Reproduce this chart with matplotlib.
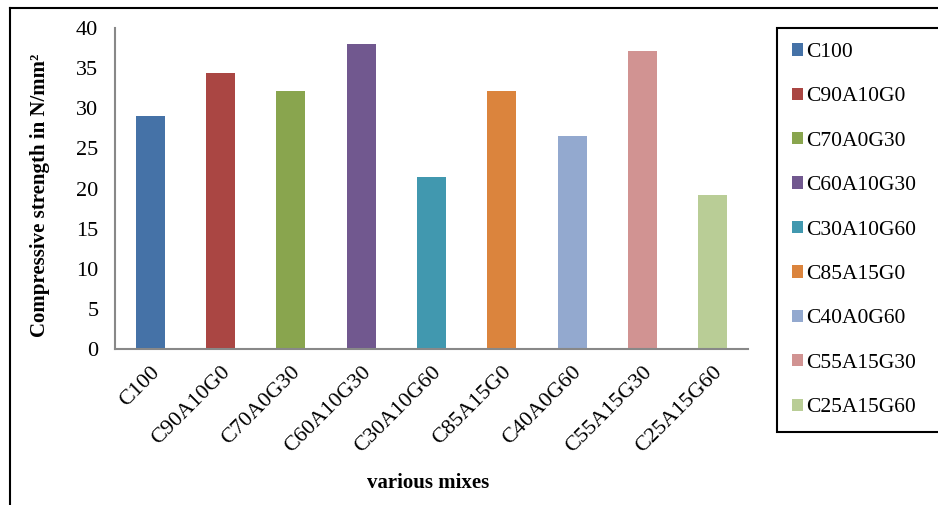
import matplotlib
matplotlib.use('Agg')
import matplotlib.pyplot as plt
from matplotlib.lines import Line2D

plt.rcParams['font.family'] = ['Liberation Serif', 'DejaVu Serif']

mixes = ['C100', 'C90A10G0', 'C70A0G30', 'C60A10G30', 'C30A10G60',
         'C85A15G0', 'C40A0G60', 'C55A15G30', 'C25A15G60']
strength = [29.0, 34.4, 32.1, 38.0, 21.4, 32.1, 26.6, 37.1, 19.25]
colors = ['#4572A7', '#AA4643', '#89A54E', '#71588F', '#4198AF',
          '#DB843D', '#93A9CF', '#D19392', '#B9CD96']

W, H = 938, 505
fig = plt.figure(figsize=(W / 100, H / 100), dpi=100)
ax = fig.add_axes([115 / W, 1 - 349 / H, (748 - 115) / W, (349 - 28) / H])

x = range(len(mixes))
bars = ax.bar(x, strength, width=0.41, color=colors)

ax.set_xlim(-0.5, len(mixes) - 0.5)
ax.set_ylim(0, 40)
ax.set_yticks(range(0, 41, 5))
ax.set_xticks(list(x))
ax.set_xticklabels(mixes, rotation=45, ha='right', rotation_mode='anchor')
ax.tick_params(axis='y', length=0, pad=12, labelsize=16)
ax.tick_params(axis='x', length=0, pad=10, labelsize=16)

for side in ['top', 'right']:
    ax.spines[side].set_visible(False)
for side in ['left', 'bottom']:
    ax.spines[side].set_color('#888888')
    ax.spines[side].set_linewidth(1.5)

ax.set_ylabel('Compressive strength in N/mm\u00b2', fontsize=15, fontweight='bold')
ax.yaxis.set_label_coords(-0.103, 0.48)
ax.set_xlabel('various mixes', fontsize=15, fontweight='bold')
ax.xaxis.set_label_coords(0.495, -0.385)

# legend box runs off the right edge like the original
leg = fig.legend(bars, mixes, loc='upper left', mode='expand',
                 bbox_to_anchor=(777 / W, 1 - 28 / H, (950 - 777) / W, 0),
                 borderaxespad=0, fontsize=15.5, handlelength=0.5, handleheight=0.5,
                 handletextpad=0.15, labelspacing=1.18, borderpad=0.7,
                 fancybox=False, framealpha=1)
leg.get_frame().set_edgecolor('black')
leg.get_frame().set_linewidth(1.5)

# outer chart border
fig.add_artist(Line2D([10 / W, 1], [1 - 8 / H, 1 - 8 / H], color='black', lw=1.5,
                      transform=fig.transFigure))
fig.add_artist(Line2D([10 / W, 10 / W], [0, 1 - 8 / H], color='black', lw=1.5,
                      transform=fig.transFigure))

fig.savefig('out.png', dpi=100)
